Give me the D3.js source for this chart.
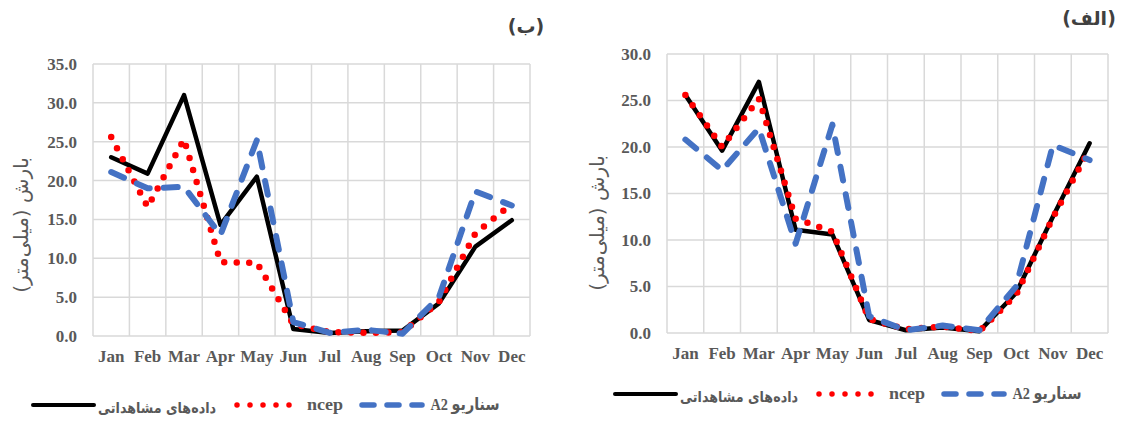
<!DOCTYPE html>
<html>
<head>
<meta charset="utf-8">
<script src="https://cdn.jsdelivr.net/npm/d3@7"></script>
<style>
  body { margin: 0; background: #fff; }
  svg { display: block; }
</style>
</head>
<body>
<div id="chart"></div>
<script>
// data
const months = ["Jan", "Feb", "Mar", "Apr", "May", "Jun", "Jul", "Aug", "Sep", "Oct", "Nov", "Dec"];

// panel (ب)
const observedB = [23.0, 20.9, 31.0, 14.3, 20.5, 0.9, 0.4, 0.6, 0.7, 4.2, 11.5, 14.9];
const ncepB     = [25.6, 16.6, 25.3, 9.5, 9.4, 1.5, 0.5, 0.4, 0.5, 4.4, 13.2, 17.0];
const a2B       = [21.1, 19.0, 19.2, 13.0, 25.2, 1.8, 0.4, 0.8, 0.3, 5.0, 18.6, 16.8];
const yTicksB   = [0, 5, 10, 15, 20, 25, 30, 35];

// panel (الف)
const observedA = [25.6, 19.6, 27.0, 11.1, 10.6, 1.4, 0.3, 0.6, 0.2, 4.3, 12.5, 20.4];
const ncepA     = [25.6, 20.0, 25.2, 12.3, 10.9, 1.5, 0.4, 0.7, 0.2, 4.1, 12.4, 19.8];
const a2A       = [20.8, 17.5, 22.0, 9.6, 22.4, 1.8, 0.3, 0.8, 0.3, 5.0, 20.2, 18.6];
const yTicksA   = [0, 5, 10, 15, 20, 25, 30];

const seriesNames = ["داده‌های مشاهداتی", "ncep", "سناریو A2"];
const yTitle = "بارش (میلی‌متر)";
const panelLabels = ["(ب)", "(الف)"];

const W = 1121, H = 424;
const gray = "#595959";
const gridColor = "#d9d9d9";
const latinFont = "'Times New Roman', 'Liberation Serif', serif";
const persianFont = "'DejaVu Sans', sans-serif";

const svg = d3.select("#chart").append("svg")
    .attr("width", W)
    .attr("height", H);
svg.append("rect").attr("width", W).attr("height", H).attr("fill", "#fff");

const styles = [
    {color: "#000000", width: 4.5, dash: null},
    {color: "#ff0000", width: 6.5, dash: "0 12.5"},
    {color: "#4472c4", width: 6, dash: "14 14"}
];

// legend layout, relative to the legend origin
const legendItems = [
    {sym: [0, 67], text: 127, textW: 118},
    {sym: [204, 271], text: 295, textW: 36},
    {sym: [329, 395], text: 435, textW: 69}
];

function drawPanel(p) {
    const g = svg.append("g").attr("transform", `translate(${p.left},${p.top})`);
    const w = p.width, h = p.height;

    const x = d3.scaleBand().domain(months).range([0, w]).padding(0);
    const y = d3.scaleLinear().domain([0, d3.max(p.ticks)]).range([h, 0]);

    // horizontal gridlines
    g.selectAll(".hgrid")
        .data(p.ticks)
        .enter().append("line")
        .attr("x1", 0).attr("x2", w)
        .attr("y1", d => y(d)).attr("y2", d => y(d))
        .attr("stroke", gridColor).attr("stroke-width", 1.5);

    // vertical gridlines at category boundaries
    g.selectAll(".vgrid")
        .data(months.map(m => x(m)).concat([w]))
        .enter().append("line")
        .attr("x1", d => d).attr("x2", d => d)
        .attr("y1", 0).attr("y2", h)
        .attr("stroke", gridColor).attr("stroke-width", 1.5);

    // y axis labels
    const yAxis = g.append("g")
        .call(d3.axisLeft(y).tickValues(p.ticks).tickSize(0).tickPadding(16).tickFormat(d3.format(".1f")));
    yAxis.attr("font-family", null).attr("font-size", null);
    yAxis.select(".domain").remove();
    yAxis.selectAll("text")
        .attr("fill", gray)
        .attr("font-family", latinFont)
        .attr("font-size", 17)
        .attr("font-weight", "bold");

    // x axis labels
    const xAxis = g.append("g")
        .attr("transform", `translate(0,${h})`)
        .call(d3.axisBottom(x).tickSize(0).tickPadding(14));
    xAxis.attr("font-family", null).attr("font-size", null);
    xAxis.select(".domain").remove();
    xAxis.selectAll("text")
        .attr("fill", gray)
        .attr("font-family", latinFont)
        .attr("font-size", 17)
        .attr("font-weight", "bold");

    // y axis title
    svg.append("text")
        .attr("transform", `translate(${p.titleX},${p.titleY}) rotate(-90)`)
        .attr("text-anchor", "middle")
        .attr("direction", "rtl")
        .attr("dominant-baseline", "middle")
        .attr("fill", gray)
        .attr("font-family", persianFont)
        .attr("font-size", 20)
        .text(yTitle);

    // series lines
    const line = d3.line()
        .x((d, i) => x(months[i]) + x.bandwidth() / 2)
        .y(d => y(d));

    p.series.forEach((vals, i) => {
        const s = styles[i];
        g.append("path")
            .datum(vals)
            .attr("fill", "none")
            .attr("stroke", s.color)
            .attr("stroke-width", s.width)
            .attr("stroke-linecap", "round")
            .attr("stroke-linejoin", "round")
            .attr("stroke-dasharray", s.dash)
            .attr("d", line);
    });

    // panel label
    svg.append("text")
        .attr("x", p.labelX).attr("y", p.labelY)
        .attr("text-anchor", "middle")
        .attr("fill", "#404040")
        .attr("font-family", persianFont)
        .attr("font-size", 19)
        .attr("font-weight", "bold")
        .text(p.label);

    // legend
    const lg = svg.append("g").attr("transform", `translate(${p.legendX},${p.legendY})`);
    legendItems.forEach((it, i) => {
        const s = styles[i];
        lg.append("line")
            .attr("x1", it.sym[0] + 3).attr("x2", it.sym[1] - 3)
            .attr("y1", 0).attr("y2", 0)
            .attr("stroke", s.color)
            .attr("stroke-width", i === 0 ? 4 : 5.5)
            .attr("stroke-linecap", "round")
            .attr("stroke-dasharray", i === 0 ? null : (i === 1 ? "0 13" : "12 13"));
        lg.append("text")
            .attr("x", it.text).attr("y", i === 0 ? 8 : 5)
            .attr("text-anchor", "middle")
            .attr("direction", "rtl")
            .attr("fill", gray)
            .attr("font-family", i === 0 ? persianFont : latinFont + ", 'DejaVu Sans'")
            .attr("font-size", i === 0 ? 15 : 17)
            .attr("font-weight", "bold")
            .attr("textLength", it.textW)
            .attr("lengthAdjust", "spacingAndGlyphs")
            .text(seriesNames[i]);
    });
}

drawPanel({
    left: 93, top: 64, width: 437, height: 272,
    ticks: yTicksB, series: [observedB, ncepB, a2B],
    titleX: 22, titleY: 225,
    label: panelLabels[0], labelX: 526, labelY: 33,
    legendX: 30, legendY: 405
});

drawPanel({
    left: 667, top: 54, width: 441, height: 279,
    ticks: yTicksA, series: [observedA, ncepA, a2A],
    titleX: 598, titleY: 223,
    label: panelLabels[1], labelX: 1089, labelY: 25,
    legendX: 612, legendY: 394
});
</script>
</body>
</html>
